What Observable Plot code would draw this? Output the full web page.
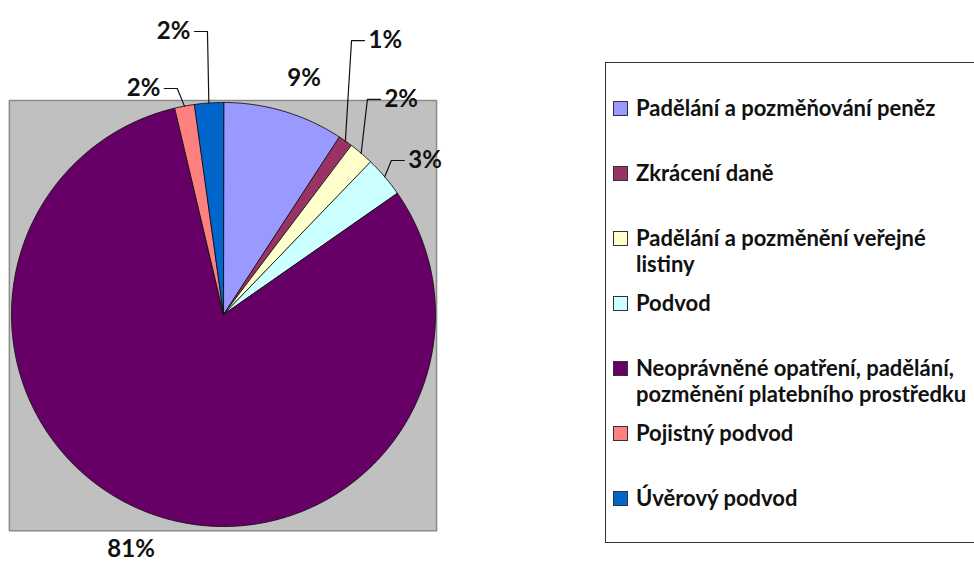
<!DOCTYPE html>
<html><head><meta charset="utf-8">
<script src="https://cdn.jsdelivr.net/npm/d3@7"></script>
<script src="https://cdn.jsdelivr.net/npm/@observablehq/plot@0.6"></script>
<style>
body{margin:0;background:#fff;overflow:hidden;}
#wrap{position:relative;width:974px;height:561px;overflow:hidden;font-family:Lato, "Open Sans", sans-serif;}
#wrap svg{position:absolute;left:0;top:0;}
#legend{position:absolute;left:605px;top:62px;width:420px;height:481px;border:1.5px solid #333;box-sizing:border-box;background:#fff;}
.item{position:absolute;left:7px;display:flex;align-items:flex-start;font-weight:bold;font-size:22px;line-height:26px;color:#111;}
.sw{width:13px;height:13px;border:1.3px solid #333;margin-top:6px;margin-right:8px;flex:none}
.txt{width:345px}
</style></head>
<body><div id="wrap"></div>
<script>
// ---- data ----
const categories = [
  "Padělání a pozměňování peněz",
  "Zkrácení daně",
  "Padělání a pozměnění veřejné listiny",
  "Podvod",
  "Neoprávněné opatření, padělání, pozměnění platebního prostředku",
  "Pojistný podvod",
  "Úvěrový podvod"
];
const values = [9.2, 1.1, 1.9, 3.1, 81.0, 1.5, 2.2];
const colors = ["#9999FF", "#993366", "#FFFFCC", "#CCFFFF", "#660066", "#FF8080", "#0066CC"];

// ---- label layout (angle nudge in degrees, radius in pie radii) ----
const labelNudge = [2.3, -7.2, -3.7, 0.7, 0.6, -5.0, -2.7];
const labelRadius = [1.177, 1.462, 1.267, 1.135, 1.19, 1.107, 1.344];

const table = categories.map((c, i) => ({category: c, value: values[i]}));
const arcs = d3.pie().sort(null).value(d => d.value).startAngle(0).endAngle(2 * Math.PI)(table);
const pt = (a, r = 1) => [r * Math.sin(a), -r * Math.cos(a)];

const slices = arcs.map(a => {
  const n = Math.max(2, Math.ceil((a.endAngle - a.startAngle) / (Math.PI / 360)));
  const ring = [[0, 0]];
  for (let k = 0; k <= n; ++k) ring.push(pt(a.startAngle + (a.endAngle - a.startAngle) * k / n));
  ring.push([0, 0]);
  return {type: "Feature", properties: {category: a.data.category}, geometry: {type: "Polygon", coordinates: [ring]}};
});

const gap1 = 17 / 212, gap2 = 4 / 212;
const labels = arcs.map((a, i) => {
  const mid = (a.startAngle + a.endAngle) / 2;
  const ang = mid + labelNudge[i] * Math.PI / 180;
  const [x, y] = pt(ang, labelRadius[i]);
  const leader = a.data.value < 5;
  const side = leader ? (mid < Math.PI ? "start" : "end") : "middle";
  return {x, y, mid, leader, side, text: Math.round(a.data.value) + "%"};
});
const leaders = labels.filter(d => d.leader).map(d => {
  const s = d.side === "start" ? -1 : 1;
  return {type: "Feature", properties: {}, geometry: {type: "LineString", coordinates: [
    pt(d.mid), [d.x + s * gap1, d.y], [d.x + s * gap2, d.y]
  ]}};
});
const frameBox = {type: "Feature", properties: {}, geometry: {type: "Polygon", coordinates: [[
  [-1.01, -1.01], [1.005, -1.01], [1.005, 1.02], [-1.01, 1.02], [-1.01, -1.01]
]]}};

const projection = d3.geoIdentity().scale(212).translate([223, 314]);
const txt = {x: "x", y: "y", text: "text", fontSize: 24, fontWeight: "bold", fill: "#111", fontFamily: "Lato"};

const chart = Plot.plot({
  width: 974, height: 561, margin: 0,
  projection,
  style: {background: "transparent", fontFamily: "Lato"},
  color: {type: "ordinal", domain: categories, range: colors},
  marks: [
    Plot.geo([frameBox], {fill: "#c0c0c0", stroke: "#8a8a8a", strokeWidth: 1.5}),
    Plot.geo(slices, {fill: d => d.properties.category, stroke: "#111", strokeWidth: 0.9, strokeLinejoin: "round"}),
    Plot.geo(leaders, {stroke: "#111", strokeWidth: 1.2, fill: "none"}),
    Plot.text(labels.filter(d => d.side === "middle"), {...txt, textAnchor: "middle"}),
    Plot.text(labels.filter(d => d.side === "start"), {...txt, textAnchor: "start"}),
    Plot.text(labels.filter(d => d.side === "end"), {...txt, textAnchor: "end"})
  ]
});
const wrap = document.getElementById("wrap");
wrap.appendChild(chart);

// ---- legend ----
const legend = document.createElement("div");
legend.id = "legend";
const legendTop = 62;
categories.forEach((c, i) => {
  const item = document.createElement("div");
  item.className = "item";
  item.style.top = (107 + i * 65 - 13 - legendTop) + "px";
  const sw = document.createElement("div");
  sw.className = "sw";
  sw.style.background = colors[i];
  const t = document.createElement("div");
  t.className = "txt";
  t.textContent = c;
  item.appendChild(sw); item.appendChild(t);
  legend.appendChild(item);
});
wrap.appendChild(legend);
</script>
</body></html>
